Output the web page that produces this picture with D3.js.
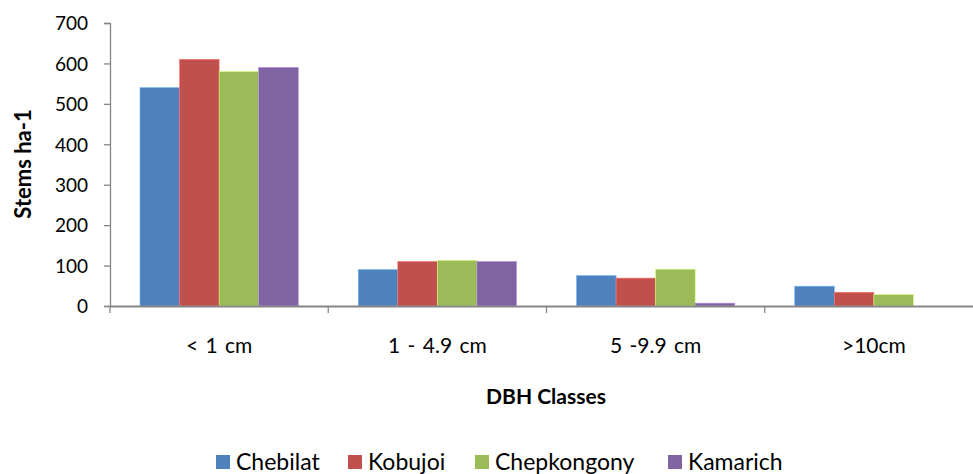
<!DOCTYPE html>
<html>
<head>
<meta charset="utf-8">
<script src="https://cdn.jsdelivr.net/npm/d3@7"></script>
<style>
  body { margin: 0; background: #fff; }
  svg { display: block; font-family: Lato, "Open Sans", sans-serif; }
</style>
</head>
<body>
<svg id="chart" width="973" height="474"></svg>
<script>
// data
const classes = ['< 1 cm', '1 - 4.9 cm', '5 -9.9 cm', '>10cm']
const sites = ['Chebilat', 'Kobujoi', 'Chepkongony', 'Kamarich']
const chebilat = [540, 90, 75, 49]
const kobujoi = [610, 110, 69, 34]
const chepkongony = [580, 113, 91, 28]
const kamarich = [590, 110, 7, 0]
const yTicks = [0, 100, 200, 300, 400, 500, 600, 700]

const COLORS = ['#4F81BD', '#C0504D', '#9BBB59', '#8064A2']
const AXIS = '#868686'

const series = [chebilat, kobujoi, chepkongony, kamarich]
const rows = classes.map((c, i) => ({ name: c, values: series.map(s => s[i]) }))

const svg = d3.select('#chart')

// plot area runs past the right edge, as in the original
const x = d3.scaleBand().domain(classes).range([110, 983]).paddingInner(0).paddingOuter(0)
const inner = d3.scaleBand().domain(sites).range([30, x.bandwidth() - 30])
const y = d3.scaleLinear().domain([0, 700]).range([306, 23])

// bars
svg.append('g')
  .selectAll('g')
  .data(rows)
  .join('g')
    .attr('transform', d => 'translate(' + x(d.name) + ',0)')
  .selectAll('rect')
  .data(d => d.values.map((v, k) => ({ site: sites[k], value: v, k })))
  .join('rect')
    .attr('x', d => inner(d.site))
    .attr('width', inner.bandwidth())
    .attr('y', d => y(d.value))
    .attr('height', d => y(0) - y(d.value))
    .attr('fill', d => COLORS[d.k])
    .attr('stroke', d => d3.color(COLORS[d.k]).brighter(0.9))
    .attr('stroke-width', 0.6)

// y axis
const yAxis = svg.append('g')
  .attr('transform', 'translate(110,0)')
  .call(d3.axisLeft(y).tickValues(yTicks).tickSize(6).tickPadding(16))
yAxis.select('.domain').attr('stroke', AXIS).attr('stroke-width', 1.3)
yAxis.selectAll('.tick line').attr('stroke', AXIS).attr('stroke-width', 1.3)
yAxis.selectAll('.tick text')
  .attr('font-size', 19).attr('fill', '#000')
  .attr('font-family', 'Lato, sans-serif')
  .attr('dy', '0.36em')

// x axis
const xAxis = svg.append('g')
  .attr('transform', 'translate(0,306)')
  .call(d3.axisBottom(x).tickSize(0))
xAxis.select('.domain').attr('stroke', AXIS).attr('stroke-width', 2)
xAxis.selectAll('.tick text')
  .attr('y', 47).attr('dy', null)
  .attr('font-size', 21).attr('fill', '#000')
  .attr('word-spacing', 2)
  .attr('font-family', 'Lato, sans-serif')

// category boundary ticks
svg.append('g')
  .selectAll('line')
  .data(classes.concat(['end']))
  .join('line')
    .attr('x1', (d, i) => 110 + i * x.step())
    .attr('x2', (d, i) => 110 + i * x.step())
    .attr('y1', 306)
    .attr('y2', 313)
    .attr('stroke', AXIS)
    .attr('stroke-width', 1.3)

// axis titles
svg.append('text')
  .attr('transform', 'translate(31,164) rotate(-90)')
  .attr('text-anchor', 'middle')
  .attr('font-size', 22).attr('font-weight', 'bold')
  .text('Stems ha-1')

svg.append('text')
  .attr('x', 546).attr('y', 404)
  .attr('text-anchor', 'middle')
  .attr('font-size', 21).attr('font-weight', 'bold')
  .text('DBH Classes')

// legend
const legendX = [216, 348, 475, 668]
const legend = svg.append('g')
  .selectAll('g')
  .data(sites)
  .join('g')
    .attr('transform', (d, i) => 'translate(' + legendX[i] + ',455)')
legend.append('rect')
  .attr('width', 14).attr('height', 14)
  .attr('fill', (d, i) => COLORS[i])
legend.append('text')
  .attr('x', 20).attr('y', 15)
  .attr('font-size', 23)
  .text(d => d)
</script>
</body>
</html>
